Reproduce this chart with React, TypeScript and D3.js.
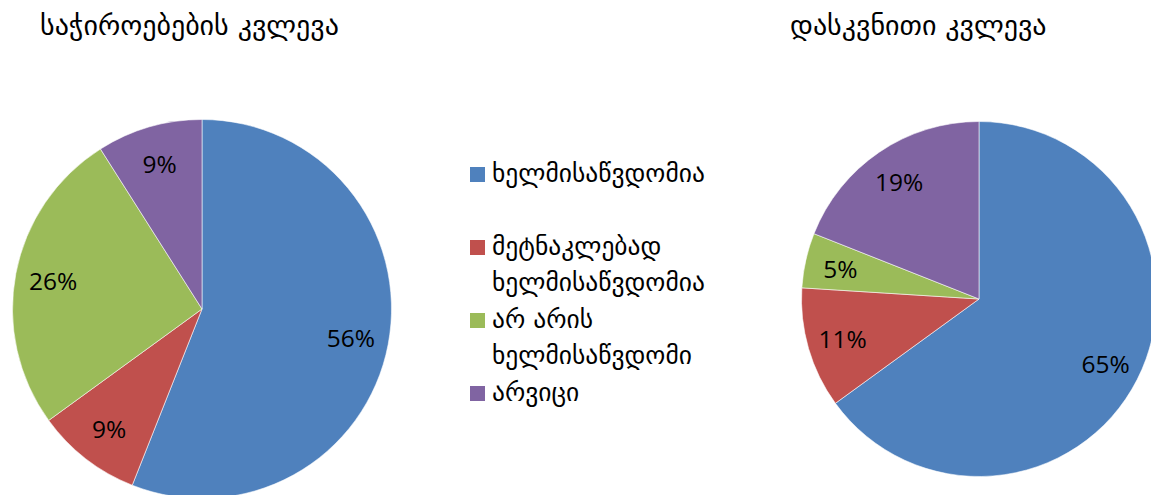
import React from "react";
import * as d3 from "d3";

const categories = ["ხელმისაწვდომია", "მეტნაკლებად ხელმისაწვდომია", "არ არის ხელმისაწვდომი", "არვიცი"];
const legendLines = [["ხელმისაწვდომია"], ["მეტნაკლებად", "ხელმისაწვდომია"], ["არ არის", "ხელმისაწვდომი"], ["არვიცი"]];
const colors = ["#4F81BD", "#C0504D", "#9BBB59", "#8064A2"];
const titles = ["საჭიროებების კვლევა", "დასკვნითი კვლევა"];
const needsValues = [56, 9, 26, 9];
const finalValues = [65, 11, 5, 19];

const W = 1151;
const H = 495;
const geoFont = "'DejaVu Sans', sans-serif";
const numFont = "'Open Sans', sans-serif";

function Pie({ values, cx, cy, r }: { values: number[]; cx: number; cy: number; r: number }) {
  const pie = d3.pie<number>().sort(null).value((d) => d);
  const arcs = pie(values);
  const arc = d3.arc<d3.PieArcDatum<number>>().innerRadius(0).outerRadius(r);
  const labelArc = d3.arc<d3.PieArcDatum<number>>().innerRadius(r * 0.8).outerRadius(r * 0.8);
  return (
    <g transform={`translate(${cx},${cy})`}>
      {arcs.map((a, i) => (
        <path key={i} d={arc(a) as string} fill={colors[i]} stroke="#ffffff" strokeWidth={0.8} strokeOpacity={0.7} />
      ))}
      {arcs.map((a, i) => {
        const [x, y] = labelArc.centroid(a);
        return (
          <text key={"l" + i} x={x} y={y} textAnchor="middle" dominantBaseline="central" fontFamily={numFont} fontSize={24.5} fill="#000">
            {`${values[i]}%`}
          </text>
        );
      })}
    </g>
  );
}

export default function App() {
  const legendY = [167, 240, 313, 386];
  return (
    <svg width={W} height={H} style={{ position: "absolute", left: 0, top: 0, background: "#fff" }}>
      <rect width={W} height={H} fill="#fff" />
      <text x={40} y={35} fontFamily={geoFont} fontSize={28} fill="#000">{titles[0]}</text>
      <text x={790} y={35} fontFamily={geoFont} fontSize={28} fill="#000">{titles[1]}</text>
      <Pie values={needsValues} cx={202} cy={309} r={189.5} />
      <Pie values={finalValues} cx={979} cy={299} r={177.5} />
      <g>
        {categories.map((c, i) => (
          <g key={c}>
            <rect x={470} y={legendY[i]} width={15} height={15} fill={colors[i]} />
            {legendLines[i].map((ln, j) => (
              <text key={j} x={492} y={legendY[i] + 15 + j * 36} fontFamily={geoFont} fontSize={25.5} fill="#000">{ln}</text>
            ))}
          </g>
        ))}
      </g>
    </svg>
  );
}
